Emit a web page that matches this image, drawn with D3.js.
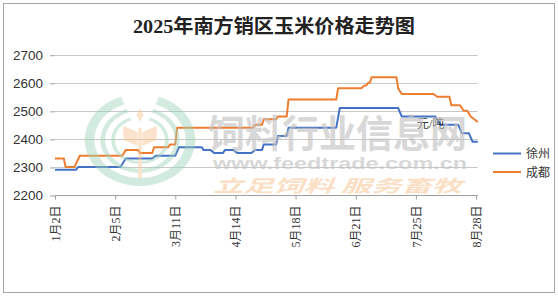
<!DOCTYPE html>
<html>
<head>
<meta charset="utf-8">
<script src="https://cdn.jsdelivr.net/npm/d3@7"></script>
<style>
  body { margin: 0; background: #fff; }
</style>
</head>
<body>
<div id="chart"></div>
<script>
// corner points of each series
var xuzhou = [
  ["2025-01-02", 2290], ["2025-01-14", 2290], ["2025-01-15", 2300], ["2025-02-08", 2300],
  ["2025-02-11", 2330], ["2025-02-26", 2330], ["2025-02-28", 2340], ["2025-03-11", 2340],
  ["2025-03-13", 2370], ["2025-03-26", 2370], ["2025-03-27", 2360], ["2025-03-31", 2360],
  ["2025-04-02", 2350], ["2025-04-07", 2350], ["2025-04-08", 2360], ["2025-04-13", 2360],
  ["2025-04-15", 2350], ["2025-04-23", 2350], ["2025-04-25", 2360], ["2025-04-29", 2360],
  ["2025-04-30", 2380], ["2025-05-07", 2380], ["2025-05-08", 2410], ["2025-05-13", 2410],
  ["2025-05-14", 2440], ["2025-06-10", 2440], ["2025-06-12", 2510], ["2025-07-15", 2510],
  ["2025-07-17", 2480], ["2025-08-05", 2480], ["2025-08-08", 2450], ["2025-08-18", 2450],
  ["2025-08-20", 2420], ["2025-08-24", 2420], ["2025-08-26", 2390], ["2025-08-29", 2390]
]
var chengdu = [
  ["2025-01-02", 2330], ["2025-01-07", 2330], ["2025-01-08", 2300], ["2025-01-13", 2300],
  ["2025-01-16", 2340], ["2025-02-09", 2340], ["2025-02-11", 2360], ["2025-02-18", 2360],
  ["2025-02-19", 2350], ["2025-02-26", 2350], ["2025-02-27", 2370], ["2025-03-07", 2370],
  ["2025-03-08", 2380], ["2025-03-11", 2380], ["2025-03-12", 2440], ["2025-04-24", 2440],
  ["2025-04-25", 2450], ["2025-04-29", 2450], ["2025-04-30", 2470], ["2025-05-07", 2470],
  ["2025-05-08", 2480], ["2025-05-13", 2480], ["2025-05-14", 2540], ["2025-06-10", 2540],
  ["2025-06-11", 2580], ["2025-06-24", 2580], ["2025-06-26", 2590], ["2025-06-27", 2590],
  ["2025-06-28", 2600], ["2025-06-29", 2600], ["2025-06-30", 2620], ["2025-07-14", 2620],
  ["2025-07-15", 2580], ["2025-07-17", 2560], ["2025-08-04", 2560], ["2025-08-06", 2550],
  ["2025-08-13", 2550], ["2025-08-14", 2520], ["2025-08-19", 2520], ["2025-08-21", 2500],
  ["2025-08-23", 2500], ["2025-08-25", 2480], ["2025-08-27", 2470], ["2025-08-29", 2460]
]
var seriesNames = ["徐州", "成都"]
var seriesColors = ["#4472C4", "#ED7D31"]
var tickDates = ["2025-01-02", "2025-02-05", "2025-03-11", "2025-04-14",
                 "2025-05-18", "2025-06-21", "2025-07-25", "2025-08-28"]
var tickLabels = ["1月2日", "2月5日", "3月11日", "4月14日", "5月18日", "6月21日", "7月25日", "8月28日"]
var yTicks = [2200, 2300, 2400, 2500, 2600, 2700]
var titleText = "2025年南方销区玉米价格走势图"
var unitText = "元/吨"

var W = 558, H = 296
var margin = {top: 55, right: 81, bottom: 101, left: 55}
var parse = d3.utcParse("%Y-%m-%d")

var svg = d3.select("#chart").append("svg")
  .attr("width", W)
  .attr("height", H)

svg.append("rect")
  .attr("x", 3.5).attr("y", 3.5)
  .attr("width", 551).attr("height", 289)
  .attr("fill", "#fff")
  .attr("stroke", "#a6a6a6")

/* Scales */
var x = d3.scaleUtc()
  .domain([parse("2025-01-02"), parse("2025-08-29")])
  .range([margin.left, W - margin.right + 0.8])
var y = d3.scaleLinear()
  .domain([2200, 2700])
  .range([H - margin.bottom, margin.top - 0.3])

/* Title */
svg.append("text")
  .attr("x", 274)
  .attr("y", 33)
  .attr("text-anchor", "middle")
  .attr("font-family", "'Liberation Serif', 'Noto Sans CJK SC', serif")
  .attr("font-size", "19px")
  .attr("font-weight", "bold")
  .attr("fill", "#222")
  .attr("textLength", 282)
  .attr("lengthAdjust", "spacingAndGlyphs")
  .text(titleText)

/* Gridlines */
svg.append("g").selectAll("line")
  .data(yTicks).enter()
  .append("line")
  .attr("x1", x.range()[0]).attr("x2", x.range()[1])
  .attr("y1", d => Math.round(y(d)) + 0.5).attr("y2", d => Math.round(y(d)) + 0.5)
  .attr("stroke", "#c8c8c8")

/* Y axis */
var yAxis = svg.append("g")
  .attr("transform", "translate(" + margin.left + ",0.5)")
  .call(d3.axisLeft(y).tickValues(yTicks).tickSize(5).tickPadding(7).tickFormat(d3.format("d")))
yAxis.select(".domain").remove()
yAxis.selectAll("line").attr("stroke", "#a0a0a0")
yAxis.selectAll("text")
  .attr("font-family", "'Liberation Sans', Arial, sans-serif")
  .attr("font-size", "12px")
  .attr("fill", "#333")
  .attr("textLength", 30)
  .attr("lengthAdjust", "spacingAndGlyphs")

/* X axis */
var xAxis = svg.append("g")
  .attr("transform", "translate(0," + (Math.round(y(2200)) + 0.5) + ")")
  .call(d3.axisBottom(x).tickValues(tickDates.map(parse)).tickSize(4)
    .tickFormat((d, i) => tickLabels[i]))
xAxis.select(".domain").attr("stroke", "#a0a0a0")
  .attr("d", "M" + x.range()[0] + ",0H" + x.range()[1])
xAxis.selectAll("line").attr("stroke", "#a0a0a0")
xAxis.selectAll("text")
  .attr("transform", "rotate(-90)")
  .attr("text-anchor", "end")
  .attr("x", -10)
  .attr("y", 0)
  .attr("dy", "0.35em")
  .attr("font-family", "'Liberation Serif', 'Noto Sans CJK SC', serif")
  .attr("font-size", "12px")
  .attr("fill", "#333")

/* Lines */
var line = d3.line()
  .x(d => x(parse(d[0])))
  .y(d => y(d[1]))

svg.append("g").selectAll("path")
  .data([xuzhou, chengdu]).enter()
  .append("path")
  .attr("d", line)
  .attr("fill", "none")
  .attr("stroke", (d, i) => seriesColors[i])
  .attr("stroke-width", 2)
  .attr("stroke-linejoin", "round")

/* Unit label */
svg.append("text")
  .attr("x", 417)
  .attr("y", 128)
  .attr("font-family", "'Liberation Serif', 'Noto Sans CJK SC', serif")
  .attr("font-size", "12px")
  .attr("fill", "#333")
  .text(unitText)

/* Legend */
var legend = svg.append("g").selectAll("g")
  .data(seriesNames).enter()
  .append("g")
  .attr("transform", (d, i) => "translate(493," + (153.5 + i * 18.5) + ")")
legend.append("line")
  .attr("x1", 0).attr("x2", 28)
  .attr("stroke", (d, i) => seriesColors[i])
  .attr("stroke-width", 2)
legend.append("text")
  .attr("x", 33)
  .attr("y", 4.5)
  .attr("font-family", "'Noto Sans CJK SC', sans-serif")
  .attr("font-size", "12px")
  .attr("fill", "#333")
  .text(d => d)

/* Watermark */
var wm = svg.append("g").attr("pointer-events", "none")
var logo = wm.append("g")
  .attr("transform", "translate(140,140) scale(1.2,1)")
  .attr("opacity", 0.45)
var arc = d3.arc()
var rings = [[38, 46, "#9fd3b8"], [29, 33, "#9fd3b8"], [21, 24, "#9fd3b8"]]
rings.forEach(function(r) {
  logo.append("path")
    .attr("d", arc({innerRadius: r[0], outerRadius: r[1], startAngle: 0.35, endAngle: 2 * Math.PI - 0.35}))
    .attr("fill", r[2])
})
logo.append("path")
  .attr("d", "M0,-32 L3,-25 L0,-18 L-3,-25 Z")
  .attr("fill", "#f9c48f")
logo.append("path")
  .attr("d", "M-14,-14 L-2,-8 L-2,6 L-14,0 Z M14,-14 L2,-8 L2,6 L14,0 Z M-1.5,-12 L1.5,-12 L1.5,38 L-1.5,38 Z")
  .attr("fill", "#f9c48f")

wm.append("text")
  .attr("x", 208).attr("y", 147)
  .attr("font-family", "'Noto Sans CJK SC', sans-serif")
  .attr("font-size", "38px")
  .attr("font-weight", "bold")
  .attr("fill", "#c4c4c4")
  .attr("opacity", 0.65)
  .attr("textLength", 259)
  .attr("lengthAdjust", "spacingAndGlyphs")
  .text("饲料行业信息网")
wm.append("text")
  .attr("x", 213).attr("y", 169)
  .attr("font-family", "'Liberation Sans', sans-serif")
  .attr("font-size", "16px")
  .attr("font-weight", "bold")
  .attr("fill", "#c4c4c4")
  .attr("opacity", 0.65)
  .attr("textLength", 254)
  .attr("lengthAdjust", "spacingAndGlyphs")
  .text("www.feedtrade.com.cn")
wm.append("text")
  .attr("x", 213).attr("y", 192)
  .attr("font-family", "'Noto Sans CJK SC', sans-serif")
  .attr("font-size", "17px")
  .attr("font-weight", "bold")
  .attr("font-style", "italic")
  .attr("fill", "#f9cfa6")
  .attr("opacity", 0.65)
  .attr("textLength", 249)
  .attr("lengthAdjust", "spacingAndGlyphs")
  .text("立足饲料  服务畜牧")
</script>
</body>
</html>
